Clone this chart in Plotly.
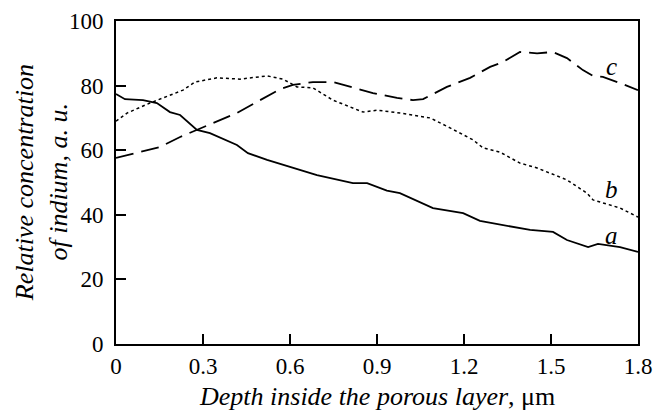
import plotly.graph_objects as go

# Curve a (solid)
a_x = [0, 0.031, 0.093, 0.141, 0.186, 0.221, 0.279, 0.324, 0.417, 0.455, 0.521, 0.6, 0.693,
       0.817, 0.866, 0.934, 0.979, 1.093, 1.197, 1.255, 1.314, 1.428, 1.507, 1.555, 1.628,
       1.662, 1.738, 1.8]
a_y = [77.4, 75.8, 75.5, 74.6, 71.8, 70.9, 66.3, 65.3, 61.6, 59.1, 57.0, 54.8, 52.3,
       49.8, 49.8, 47.5, 46.7, 42.1, 40.5, 38.1, 37.1, 35.3, 34.7, 32.2, 30.0,
       31.0, 30.0, 28.5]

# Curve b (dotted)
b_x = [0, 0.038, 0.117, 0.231, 0.272, 0.348, 0.428, 0.521, 0.576, 0.624, 0.679, 0.748,
       0.852, 0.9, 0.979, 1.024, 1.083, 1.152, 1.231, 1.266, 1.324, 1.393, 1.452, 1.555,
       1.624, 1.645, 1.738, 1.8]
b_y = [69.0, 71.5, 74.6, 78.6, 81.1, 82.4, 82.0, 83.0, 82.0, 79.6, 79.3, 75.5,
       71.8, 72.4, 71.5, 70.9, 70.0, 66.9, 63.2, 60.7, 59.4, 56.0, 54.5, 50.8,
       46.7, 44.6, 42.1, 39.3]

# Curve c (dashed)
c_x = [0, 0.083, 0.152, 0.221, 0.279, 0.334, 0.417, 0.497, 0.566, 0.61, 0.679, 0.748,
       0.817, 0.886, 0.969, 1.024, 1.059, 1.141, 1.221, 1.29, 1.334, 1.393, 1.452, 1.507,
       1.555, 1.61, 1.645, 1.679, 1.738, 1.8]
c_y = [57.6, 59.4, 61.0, 64.1, 66.3, 68.4, 71.5, 75.5, 78.9, 80.2, 81.1, 81.1,
       79.3, 77.7, 76.2, 75.5, 75.8, 79.6, 82.4, 85.8, 87.3, 90.4, 90.0, 90.4,
       88.5, 84.8, 83.0, 82.7, 80.8, 78.6]

curve_labels = ["a", "b", "c"]
label_x = [1.71, 1.71, 1.71]
label_y = [33.7, 47.7, 86.0]

x_ticks = [0, 0.3, 0.6, 0.9, 1.2, 1.5, 1.8]
x_tick_text = ["0", "0.3", "0.6", "0.9", "1.2", "1.5", "1.8"]
y_ticks = [0, 20, 40, 60, 80, 100]

FONT = "'Liberation Serif', 'Times New Roman', 'DejaVu Serif', serif"

fig = go.Figure()
fig.add_trace(go.Scatter(x=a_x, y=a_y, mode="lines",
                         line=dict(color="black", width=1.8)))
fig.add_trace(go.Scatter(x=b_x, y=b_y, mode="lines",
                         line=dict(color="black", width=1.5, dash="dot")))
fig.add_trace(go.Scatter(x=c_x, y=c_y, mode="lines",
                         line=dict(color="black", width=1.8, dash="18px,8px")))

for t, lx, ly in zip(curve_labels, label_x, label_y):
    fig.add_annotation(x=lx, y=ly, text=f"<i>{t}</i>", showarrow=False,
                       font=dict(family=FONT, size=25, color="black"))

fig.add_annotation(xref="paper", yref="paper", x=-0.175, y=0.5, xanchor="center",
                   yanchor="middle", textangle=-90, showarrow=False,
                   text="<i>Relative concentration</i>",
                   font=dict(family=FONT, size=26, color="black"))
fig.add_annotation(xref="paper", yref="paper", x=-0.111, y=0.5, xanchor="center",
                   yanchor="middle", textangle=-90, showarrow=False,
                   text="<i>of indium, a. u.</i>",
                   font=dict(family=FONT, size=26, color="black"))
fig.add_annotation(xref="paper", yref="paper", x=0.5, y=-0.164, xanchor="center",
                   yanchor="middle", showarrow=False,
                   text="<i>Depth inside the porous layer</i>, μm",
                   font=dict(family=FONT, size=26, color="black"))

axis_common = dict(showgrid=False, zeroline=False, showline=True, linecolor="black",
                   linewidth=2, mirror=True, ticks="inside", ticklen=10, tickwidth=2,
                   tickcolor="black", automargin=False,
                   tickfont=dict(family=FONT, size=23, color="black"))

fig.update_xaxes(range=[0, 1.8], tickvals=x_ticks, ticktext=x_tick_text, **axis_common)
fig.update_yaxes(range=[0, 100], tickvals=y_ticks, ticklabelstandoff=6, **axis_common)

fig.update_layout(width=667, height=412, showlegend=False,
                  plot_bgcolor="white", paper_bgcolor="white",
                  font=dict(family=FONT),
                  margin=dict(l=116, r=29, t=21, b=68))

fig.write_html("out.html", config={"displayModeBar": False},
               post_script="document.body.style.margin='0';document.body.style.overflow='hidden';")
